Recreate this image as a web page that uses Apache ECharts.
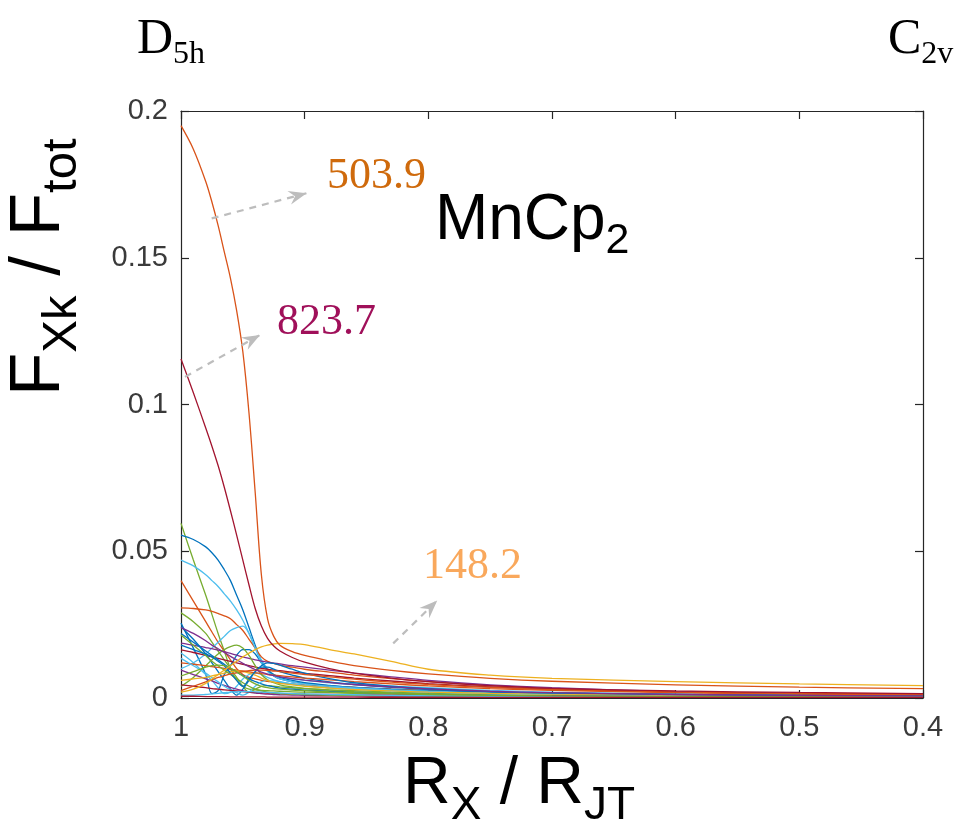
<!DOCTYPE html>
<html><head><meta charset="utf-8">
<script src="https://cdn.jsdelivr.net/npm/echarts@6/dist/echarts.min.js"></script>
<style>html,body{margin:0;padding:0;background:#fff}#c{width:968px;height:827px}</style>
</head><body><div id="c"></div>
<script>
// ---- data ----
const xs = [1, 0.99, 0.98, 0.975, 0.97, 0.965, 0.96, 0.955, 0.95, 0.945, 0.94, 0.935, 0.93, 0.925, 0.92, 0.91, 0.9, 0.88, 0.86, 0.83, 0.8, 0.75, 0.7, 0.6, 0.5, 0.4];

const mode503 = [0.195, 0.187, 0.176, 0.169, 0.161, 0.152, 0.143, 0.132, 0.118, 0.097, 0.070, 0.042, 0.027, 0.021, 0.018, 0.0158, 0.0145, 0.0126, 0.011, 0.0094, 0.0082, 0.0067, 0.0057, 0.0045, 0.0037, 0.0032];
const mode823 = [0.1155, 0.104, 0.092, 0.0858, 0.0792, 0.0718, 0.0638, 0.0555, 0.047, 0.0385, 0.0305, 0.0245, 0.0203, 0.0177, 0.016, 0.0138, 0.0122, 0.0100, 0.0085, 0.0068, 0.0056, 0.0042, 0.0033, 0.0024, 0.0019, 0.0015];
const mode148 = [0.002, 0.003, 0.005, 0.0065, 0.008, 0.0095, 0.011, 0.0125, 0.014, 0.0153, 0.0165, 0.0174, 0.018, 0.0184, 0.0186, 0.0185, 0.0182, 0.0165, 0.015, 0.0125, 0.0098, 0.0078, 0.0067, 0.0056, 0.0048, 0.0042];
const modeA = [0.0595, 0.047, 0.035, 0.0285, 0.022, 0.016, 0.010, 0.006, 0.004, 0.003, 0.0028, 0.0026, 0.0025, 0.0024, 0.0023, 0.0021, 0.002, 0.0018, 0.0016, 0.0014, 0.0012, 0.001, 0.0009, 0.0007, 0.0006, 0.0005];
const modeB = [0.0555, 0.054, 0.0515, 0.0495, 0.047, 0.0437, 0.040, 0.035, 0.030, 0.024, 0.018, 0.0125, 0.0095, 0.0075, 0.0065, 0.0055, 0.005, 0.0042, 0.0036, 0.003, 0.0025, 0.002, 0.0016, 0.0012, 0.001, 0.0008];
const modeC = [0.047, 0.045, 0.042, 0.040, 0.038, 0.0355, 0.033, 0.030, 0.0265, 0.022, 0.017, 0.013, 0.010, 0.008, 0.0072, 0.0065, 0.006, 0.0052, 0.0046, 0.004, 0.0035, 0.0026, 0.002, 0.0014, 0.001, 0.0008];
const modeD = [0.040, 0.033, 0.026, 0.0225, 0.019, 0.016, 0.013, 0.010, 0.008, 0.007, 0.0065, 0.006, 0.0057, 0.0054, 0.0052, 0.0048, 0.0045, 0.004, 0.0036, 0.003, 0.0026, 0.002, 0.0017, 0.0012, 0.0009, 0.0007];
const modeE = [0.0307, 0.0305, 0.030, 0.0295, 0.0288, 0.028, 0.027, 0.025, 0.023, 0.020, 0.017, 0.014, 0.0125, 0.0118, 0.0112, 0.0105, 0.0098, 0.0088, 0.0078, 0.0066, 0.0056, 0.0042, 0.0032, 0.0021, 0.0015, 0.0012];
const modeF = [0.029, 0.026, 0.022, 0.019, 0.016, 0.013, 0.010, 0.007, 0.004, 0.002, 0.003, 0.004, 0.0042, 0.004, 0.0038, 0.0035, 0.0032, 0.0028, 0.0025, 0.002, 0.0017, 0.0013, 0.001, 0.0008, 0.0007, 0.0006];
const modeG = [0.0255, 0.017, 0.008, 0.0015, 0.0025, 0.008, 0.011, 0.0145, 0.0165, 0.0165, 0.015, 0.012, 0.0095, 0.008, 0.007, 0.006, 0.0052, 0.0043, 0.0036, 0.0029, 0.0024, 0.0018, 0.0014, 0.001, 0.0008, 0.0006];
const modeH = [0.010, 0.012, 0.015, 0.017, 0.019, 0.021, 0.023, 0.024, 0.0245, 0.022, 0.017, 0.012, 0.009, 0.0075, 0.0065, 0.0055, 0.0048, 0.004, 0.0034, 0.0028, 0.0023, 0.0017, 0.0014, 0.001, 0.0008, 0.0006];
const modeI = [0.0187, 0.018, 0.0172, 0.0168, 0.0163, 0.0158, 0.0152, 0.0146, 0.014, 0.0135, 0.013, 0.0126, 0.0122, 0.0119, 0.0116, 0.011, 0.0105, 0.0095, 0.0085, 0.0072, 0.006, 0.0045, 0.0035, 0.0022, 0.0016, 0.0012];
const modeJ = [0.0164, 0.0155, 0.0145, 0.014, 0.0135, 0.013, 0.0125, 0.012, 0.0115, 0.011, 0.0105, 0.0101, 0.0098, 0.0095, 0.0093, 0.0088, 0.0084, 0.0076, 0.0068, 0.0058, 0.0049, 0.0038, 0.003, 0.002, 0.0015, 0.0012];
const modeK = [0.0243, 0.020, 0.015, 0.012, 0.009, 0.006, 0.003, 0.001, 0.003, 0.006, 0.009, 0.0105, 0.0105, 0.0098, 0.009, 0.0078, 0.0068, 0.0055, 0.0046, 0.0036, 0.0029, 0.0021, 0.0016, 0.0011, 0.0008, 0.0006];
const modeL = [0.022, 0.019, 0.016, 0.0145, 0.013, 0.0115, 0.010, 0.0088, 0.0076, 0.0065, 0.0056, 0.0048, 0.0042, 0.0038, 0.0034, 0.003, 0.0027, 0.0023, 0.002, 0.0016, 0.0013, 0.001, 0.0008, 0.0006, 0.0005, 0.0004];
const modeM = [0.0153, 0.012, 0.008, 0.006, 0.0035, 0.0015, 0.002, 0.004, 0.0065, 0.008, 0.0085, 0.008, 0.007, 0.0062, 0.0056, 0.0048, 0.0042, 0.0035, 0.003, 0.0025, 0.002, 0.0015, 0.0012, 0.0009, 0.0007, 0.0005];
const modeN = [0.004, 0.007, 0.011, 0.013, 0.015, 0.0165, 0.0175, 0.018, 0.017, 0.0145, 0.011, 0.008, 0.0062, 0.0052, 0.0045, 0.0038, 0.0033, 0.0027, 0.0022, 0.0017, 0.0014, 0.001, 0.0008, 0.0006, 0.0005, 0.0004];
const modeO = [0.012, 0.0115, 0.011, 0.0107, 0.0104, 0.0101, 0.0098, 0.0095, 0.0092, 0.0089, 0.0086, 0.0083, 0.008, 0.0078, 0.0076, 0.0072, 0.0068, 0.0062, 0.0056, 0.0048, 0.0041, 0.0032, 0.0026, 0.0018, 0.0014, 0.0011];
const modeP = [0.0095, 0.008, 0.0065, 0.0058, 0.005, 0.0043, 0.0036, 0.003, 0.0025, 0.002, 0.0017, 0.0015, 0.0013, 0.0012, 0.0011, 0.001, 0.0009, 0.0008, 0.0007, 0.0006, 0.0005, 0.0004, 0.0004, 0.0003, 0.0003, 0.0002];
const modeQ = [0.0135, 0.011, 0.0085, 0.007, 0.0055, 0.004, 0.0028, 0.0018, 0.001, 0.002, 0.004, 0.0055, 0.006, 0.0058, 0.0055, 0.0048, 0.0042, 0.0035, 0.003, 0.0024, 0.002, 0.0015, 0.0012, 0.0009, 0.0007, 0.0006];
const modeR = [0.006, 0.0065, 0.007, 0.0075, 0.008, 0.0085, 0.009, 0.0092, 0.009, 0.0085, 0.0078, 0.0068, 0.006, 0.0054, 0.005, 0.0045, 0.004, 0.0034, 0.0029, 0.0024, 0.002, 0.0016, 0.0013, 0.001, 0.0008, 0.0007];
const modeS = [0.0045, 0.004, 0.0035, 0.0032, 0.003, 0.0028, 0.0026, 0.0024, 0.0022, 0.002, 0.0019, 0.0018, 0.0017, 0.0016, 0.0015, 0.0014, 0.0013, 0.0012, 0.0011, 0.001, 0.0009, 0.0007, 0.0006, 0.0005, 0.0004, 0.0003];
const modeT = [0.0215, 0.018, 0.0145, 0.0125, 0.011, 0.0095, 0.008, 0.0066, 0.0052, 0.004, 0.003, 0.0024, 0.002, 0.0017, 0.0015, 0.0013, 0.0012, 0.001, 0.0009, 0.0008, 0.0007, 0.0006, 0.0005, 0.0004, 0.0003, 0.0003];
const modeU = [0.018, 0.0165, 0.015, 0.014, 0.0125, 0.011, 0.0085, 0.006, 0.004, 0.0065, 0.009, 0.011, 0.012, 0.0118, 0.0112, 0.0098, 0.0085, 0.0066, 0.0052, 0.004, 0.0032, 0.0022, 0.0017, 0.0012, 0.0009, 0.0007];
const modeV = [0.001, 0.001, 0.0012, 0.0014, 0.0016, 0.0018, 0.002, 0.0021, 0.0022, 0.0022, 0.0021, 0.002, 0.0019, 0.0018, 0.0017, 0.0015, 0.0014, 0.0012, 0.0011, 0.0009, 0.0008, 0.0006, 0.0005, 0.0004, 0.0003, 0.0003];
const modeW = [0.0025, 0.004, 0.0055, 0.0062, 0.007, 0.0076, 0.0082, 0.0086, 0.009, 0.0093, 0.0095, 0.0095, 0.0094, 0.0092, 0.009, 0.0085, 0.008, 0.0072, 0.0064, 0.0054, 0.0046, 0.0036, 0.0029, 0.002, 0.0015, 0.0012];
const modeY = [0.0075, 0.009, 0.0105, 0.011, 0.0112, 0.011, 0.0102, 0.009, 0.0075, 0.006, 0.0048, 0.004, 0.0035, 0.0032, 0.003, 0.0027, 0.0025, 0.0021, 0.0018, 0.0015, 0.0012, 0.0009, 0.0007, 0.0005, 0.0004, 0.0003];
const modeZ = [0.0006, 0.0006, 0.0005, 0.0005, 0.0005, 0.0005, 0.0004, 0.0004, 0.0004, 0.0004, 0.0004, 0.0004, 0.0003, 0.0003, 0.0003, 0.0003, 0.0003, 0.0003, 0.0003, 0.0002, 0.0002, 0.0002, 0.0002, 0.0002, 0.0002, 0.0002];
const modeP2 = [0.024, 0.022, 0.0195, 0.018, 0.0168, 0.0155, 0.0142, 0.013, 0.0118, 0.0107, 0.0097, 0.0088, 0.0081, 0.0076, 0.0072, 0.0066, 0.0061, 0.0053, 0.0046, 0.0038, 0.0031, 0.0023, 0.0018, 0.0012, 0.0009, 0.0007];

const seriesNames = ['A','B','C','D','E','F','G','H','I','J','K','L','M','N','O','P','Q','R','S','T','U','V','W','Y','Z','P2','148.2','823.7','503.9'];
const seriesValues = [modeA, modeB, modeC, modeD, modeE, modeF, modeG, modeH, modeI, modeJ, modeK, modeL, modeM, modeN, modeO, modeP, modeQ, modeR, modeS, modeT, modeU, modeV, modeW, modeY, modeZ, modeP2, mode148, mode823, mode503];

// annotations (data coordinates)
const annoTexts = ['503.9', '823.7', '148.2'];
const annoAt = [[0.882, 0.1724], [0.9224, 0.1227], [0.8044, 0.0395]];
const arrows = [[0.9752, 0.1634, 0.8984, 0.1720], [0.9968, 0.1094, 0.9361, 0.1237], [0.8284, 0.0186, 0.7928, 0.0332]];
const xTicks = { min: 0.4, max: 1, step: 0.1 };
const yTicks = { min: 0, max: 0.2, step: 0.05 };

// ---- styles ----
const C = { blue:'#0072BD', orange:'#D95319', yellow:'#EDB120', purple:'#7E2F8E', green:'#77AC30', lblue:'#4DBEEE', maroon:'#A2142F' };
const lineColors = [C.green, C.blue, C.lblue, C.orange, C.orange, C.green, C.blue, C.lblue, C.purple, C.maroon, C.blue, C.blue, C.lblue, C.green, C.orange, C.purple, C.lblue, C.yellow, C.maroon, C.green, C.blue, C.lblue, C.orange, C.green, C.maroon, C.purple, C.yellow, C.maroon, C.orange];
const annoColors = ['#CF6A0C', '#A0105A', '#F9A85C'];
const SANS = '"Liberation Sans", Arial, sans-serif';
const SERIF = '"Liberation Serif", "Times New Roman", serif';
const AX = '#262626';
const ARROW = '#BDBDBD';

const chart = echarts.init(document.getElementById('c'), null, { renderer: 'canvas' });

const series = seriesValues.map((vals, i) => ({
  name: seriesNames[i], type: 'line', xAxisIndex: 0, yAxisIndex: 0,
  data: xs.map((x, j) => [x, vals[j]]),
  showSymbol: false, symbol: 'none', smooth: 0.35, animation: false,
  lineStyle: { width: 1.3, color: lineColors[i] }, itemStyle: { color: lineColors[i] },
  emphasis: { disabled: true }, silent: true
}));
// dashed arrow shafts, in data coordinates
series.push({
  type: 'line', data: [], xAxisIndex: 0, yAxisIndex: 0, animation: false, silent: true,
  markLine: {
    silent: true, animation: false, symbol: ['none', 'none'],
    label: { show: false },
    lineStyle: { color: ARROW, width: 2.2, type: [7, 6] },
    emphasis: { disabled: true },
    data: arrows.map(a => [{ coord: [a[0], a[1]] }, { coord: [a[2], a[3]] }])
  }
});

function xAxisCfg(pos, labels) {
  return {
    type: 'value', position: pos, min: xTicks.min, max: xTicks.max, interval: xTicks.step, inverse: true,
    axisLine: { show: true, onZero: false, lineStyle: { color: AX, width: 1.2 } },
    axisTick: { show: true, inside: true, length: 8, lineStyle: { color: AX, width: 1.2 } },
    axisLabel: { show: labels, fontSize: 29, color: '#3a3a3a', fontFamily: SANS, margin: 15 },
    splitLine: { show: false }
  };
}
function yAxisCfg(pos, labels) {
  return {
    type: 'value', position: pos, min: yTicks.min, max: yTicks.max, interval: yTicks.step,
    axisLine: { show: true, onZero: false, lineStyle: { color: AX, width: 1.2 } },
    axisTick: { show: true, inside: true, length: 8, lineStyle: { color: AX, width: 1.2 } },
    axisLabel: { show: labels, fontSize: 29, color: '#3a3a3a', fontFamily: SANS, margin: 13 },
    splitLine: { show: false }
  };
}

chart.setOption({
  animation: false,
  backgroundColor: '#fff',
  grid: { left: 181, right: 45, top: 111, bottom: 129, containLabel: false },
  xAxis: [xAxisCfg('bottom', true), xAxisCfg('top', false)],
  yAxis: [yAxisCfg('left', true), yAxisCfg('right', false)],
  series: series
});

// ---- text helpers ----
const mctx = document.createElement('canvas').getContext('2d');
function tw(t, size, fam) { mctx.font = size + 'px ' + fam; return mctx.measureText(t).width; }
// parts: [text, size, baselineShift]
function textRun(x, y, parts, fam, color, rotation) {
  let cx = 0; const kids = [];
  for (const p of parts) {
    const [t, size, dy] = p;
    kids.push({ type: 'text', x: cx, y: dy - 0.345 * size, silent: true,
      style: { text: t, font: size + 'px ' + fam, fill: color, align: 'left', verticalAlign: 'middle', textAlign: 'left', textVerticalAlign: 'middle' } });
    cx += tw(t, size, fam);
  }
  return { type: 'group', x: x, y: y, rotation: rotation || 0, children: kids, silent: true };
}

const g = [];
annoTexts.forEach((t, i) => {
  const p = chart.convertToPixel({ gridIndex: 0 }, annoAt[i]);
  g.push(textRun(p[0], p[1], [[t, 44, 0]], SERIF, annoColors[i]));
});
// arrow heads (notched, MATLAB style) placed at the arrow tips via the axes' scales
arrows.forEach(a => {
  const s = chart.convertToPixel({ gridIndex: 0 }, [a[0], a[1]]);
  const e = chart.convertToPixel({ gridIndex: 0 }, [a[2], a[3]]);
  const ang = Math.atan2(e[1] - s[1], e[0] - s[0]);
  const L = 18, W = 7, N = 12;
  g.push({
    type: 'polygon', x: e[0], y: e[1], rotation: -ang, silent: true,
    shape: { points: [[0, 0], [-L, -W], [-N, 0], [-L, W]] },
    style: { fill: ARROW }
  });
});
const mn = chart.convertToPixel({ gridIndex: 0 }, [0.7947, 0.155]);
g.push(textRun(mn[0], mn[1], [['MnCp', 64, 0], ['2', 43, 13]], SANS, '#000'));
// axis titles
g.push(textRun(403, 808, [['R', 66, 0], ['X', 46, 14], [' / R', 66, 0], ['JT', 46, 14]], SANS, '#000'));
g.push(textRun(64, 396, [['F', 71, 0], ['Xk', 49, 15], [' / F', 71, 0], ['tot', 49, 15]], SANS, '#000', Math.PI / 2));
// point-group labels
g.push(textRun(137, 57, [['D', 50, 0], ['5h', 32, 9]], SERIF, '#000'));
g.push(textRun(888, 57, [['C', 50, 0], ['2v', 32, 9]], SERIF, '#000'));

chart.setOption({ graphic: g });
</script>
</body></html>
